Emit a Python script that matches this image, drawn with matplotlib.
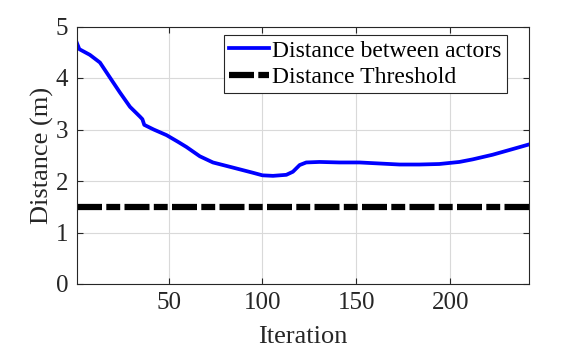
import matplotlib.pyplot as plt
import numpy as np

plt.rcParams['font.family'] = ['Liberation Serif', 'DejaVu Serif']
plt.rcParams['lines.scale_dashes'] = False

# distance between actors
iters = [1, 2.4, 8, 13.4, 19.6, 24, 29.4, 34.7, 36, 37, 42, 48.9, 55,
         59.5, 66.6, 73.6, 84.3, 94.9, 100, 105.6, 112.7, 116.2, 119.8,
         123.3, 130.4, 141, 151.7, 162.3, 173, 183.6, 194.2, 204.9,
         212, 222.6, 233.3, 242]
dist = [4.69, 4.56, 4.45, 4.30, 3.96, 3.72, 3.44, 3.25, 3.20, 3.09,
        3.00, 2.89, 2.76, 2.66, 2.48, 2.36, 2.26, 2.16, 2.11, 2.10,
        2.12, 2.18, 2.31, 2.36, 2.37, 2.36, 2.36, 2.34, 2.32, 2.32,
        2.33, 2.37, 2.42, 2.51, 2.62, 2.71]
thr_x = [1, 242]
thr_y = [1.5, 1.5]

fig = plt.figure(figsize=(5.86, 3.51), dpi=100)
ax = fig.add_axes([76.7/586, 1-284/351, (529-76.7)/586, (284-26.5)/351])

ax.plot(iters, dist, color=(0, 0, 1), lw=2.7, label='Distance between actors')
ax.plot(thr_x, thr_y, color='k', lw=4.5, dashes=(18, 3.1, 10, 3.1),
        dash_capstyle='butt', label='Distance Threshold')

ax.set_xlim(1, 242)
ax.set_ylim(0, 5)
ax.set_xticks([50, 100, 150, 200])
ax.set_yticks([0, 1, 2, 3, 4, 5])
ax.grid(True, color='0.85', lw=0.8)
ax.set_axisbelow(True)
ax.tick_params(direction='in', top=True, right=True, labelsize=18,
               colors='0.15', length=4, pad=6)
for s in ax.spines.values():
    s.set_color('0.15')
ax.set_xlabel('Iteration', fontsize=19, color='0.15', labelpad=8.5)
ax.set_ylabel('Distance (m)', fontsize=19, color='0.15', labelpad=1)

leg = ax.legend(loc='upper right', bbox_to_anchor=(0.951, 0.967),
                fontsize=17, fancybox=False, edgecolor='0.15',
                framealpha=1, handlelength=1.7, handletextpad=0.12,
                borderaxespad=0, labelspacing=0.2, borderpad=0.22)
leg.get_frame().set_linewidth(0.8)

fig.savefig('out.png', dpi=100)
